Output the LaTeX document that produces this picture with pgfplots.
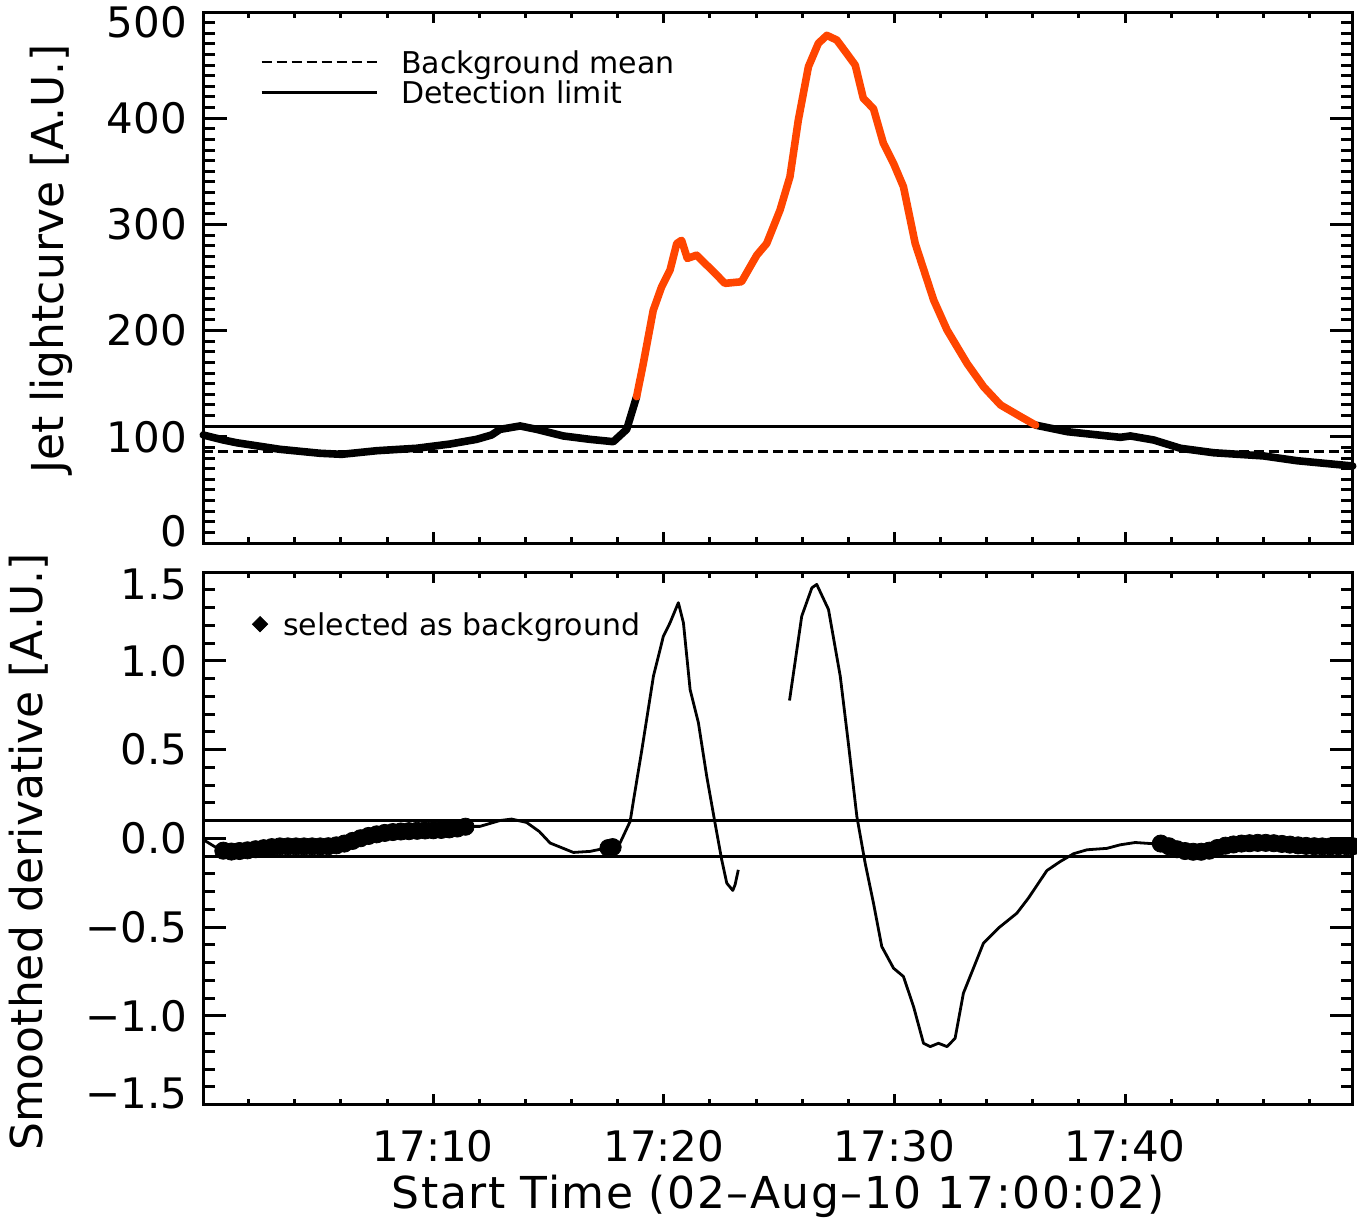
\documentclass[border=0pt]{standalone}
\usepackage{fontspec}
\setmainfont{DejaVu Sans}
\usepackage{pgfplots}
\pgfplotsset{compat=1.18}
\usepackage{pgfplotstable}
\definecolor{jetred}{RGB}{255,69,0}

% top panel: jet lightcurve (minutes after 17:00)
\pgfplotstableread{
t y
0.03 101.7
0.9 97
1.48 94.4
3.36 88.2
5.09 84.5
6.03 83.5
7.55 86.9
9.28 89.2
10.73 93.2
11.88 97.6
12.53 101.7
12.9 107
13.77 110.2
14.49 107
15.64 100.8
16.8 97.6
17.81 95.4
18.39 107
18.82 137.8
}\lcA
\pgfplotstableread{
t y
18.82 137.8
19.11 169
19.54 219
19.9 241
20.27 257
20.56 282
20.77 285
21.02 268
21.42 271
22.0 258.7
22.65 244.5
23.37 246
24.03 271
24.46 282
25.04 313.6
25.47 345
25.83 398
26.27 448.5
26.7 470.5
27.07 478
27.5 473.6
27.93 461
28.3 450
28.65 418.7
29.09 409
29.52 376.4
29.96 357.5
30.39 335.5
30.9 282
31.7 228.8
32.28 200.6
33.15 169
33.87 147
34.6 130
35.47 119
36.12 111
}\lcB
\pgfplotstableread{
t y
36.12 111
37.5 104.8
39.8 99.5
40.23 100.8
41.24 97
42.4 89.2
43.84 85
46.0 82
47.45 77.5
49.87 72.5
}\lcC

% bottom panel: smoothed derivative
\pgfplotstableread{
t v
0.03 -0.008
0.75 -0.065
1.4 -0.074
3.5 -0.046
5.6 -0.046
7.05 0.01
8.8 0.038
10.9 0.048
11.35 0.067
12.03 0.067
12.9 0.1
13.4 0.108
14.05 0.089
14.6 0.038
15.07 -0.027
16.08 -0.08
16.8 -0.074
17.7 -0.05
18.1 -0.027
18.54 0.095
18.69 0.217
19.05 0.5
19.55 0.913
19.98 1.138
20.27 1.214
20.63 1.327
20.85 1.214
21.14 0.838
21.5 0.65
21.86 0.349
22.22 0.086
22.51 -0.121
22.73 -0.253
22.99 -0.294
23.09 -0.262
23.23 -0.178
}\drA
\pgfplotstableread{
t v
25.45 0.776
25.98 1.251
26.42 1.411
26.63 1.43
27.14 1.289
27.65 0.913
28.0 0.537
28.37 0.123
28.73 -0.14
29.09 -0.365
29.45 -0.61
29.96 -0.732
30.39 -0.779
30.83 -0.949
31.26 -1.155
31.55 -1.174
31.91 -1.155
32.28 -1.174
32.63 -1.127
32.99 -0.873
33.28 -0.779
33.86 -0.591
34.51 -0.506
35.31 -0.422
35.81 -0.337
36.61 -0.182
37.19 -0.131
37.77 -0.087
38.35 -0.065
39.21 -0.057
39.79 -0.037
40.44 -0.024
41.24 -0.031
41.6 -0.03
42.4 -0.065
43.26 -0.074
44.27 -0.04
45.87 -0.026
47.17 -0.036
48.6 -0.046
49.87 -0.045
}\drB
\pgfplotstableread{
t v
0.9 -0.07
1.25 -0.075
1.6 -0.072
1.95 -0.068
2.3 -0.062
2.65 -0.056
3.0 -0.05
3.35 -0.046
3.7 -0.046
4.05 -0.046
4.4 -0.046
4.75 -0.046
5.1 -0.046
5.45 -0.045
5.8 -0.04
6.15 -0.03
6.5 -0.015
6.85 0.0
7.2 0.013
7.55 0.022
7.9 0.03
8.25 0.035
8.6 0.038
8.95 0.04
9.3 0.042
9.65 0.044
10.0 0.045
10.35 0.047
10.7 0.05
11.05 0.055
11.4 0.065
17.6 -0.055
17.78 -0.05
41.55 -0.03
41.9 -0.045
42.25 -0.062
42.6 -0.072
42.95 -0.076
43.3 -0.076
43.65 -0.07
44.0 -0.055
44.35 -0.042
44.7 -0.035
45.05 -0.03
45.4 -0.028
45.75 -0.026
46.1 -0.026
46.45 -0.028
46.8 -0.032
47.15 -0.036
47.5 -0.04
47.85 -0.043
48.2 -0.045
48.55 -0.046
48.9 -0.046
49.25 -0.045
49.6 -0.045
49.87 -0.045
}\bgsel

\begin{document}
\begin{tikzpicture}
\pgfplotsset{
  panel/.style={
    scale only axis, width=574.6pt,
    xmin=0.04, xmax=49.87,
    axis line style={line width=1.5pt},
    tick style={line width=1.5pt, black},
    tick align=inside,
    clip=false,
    ticklabel style={font=\fontsize{21}{21}\selectfont},
    label style={font=\fontsize{22}{22}\selectfont},
  },
  toppanel/.style={panel, height=265.5pt, ymin=0, ymax=500, at={(0pt,0pt)}, anchor=south west},
  botpanel/.style={panel, height=266.25pt, ymin=-1.5, ymax=1.5, at={(0pt,-14.5pt)}, anchor=north west},
  yt/.style={xtick=\empty, major tick length=11.5pt, minor tick length=6pt,
    yticklabel style={anchor=east, inner xsep=0pt, xshift=-8pt}},
  xt/.style={ytick=\empty, xtick={10,20,30,40}, minor xtick={2,4,...,48},
    major tick length=5.5pt, minor tick length=3pt,
    xticklabel style={anchor=base, yshift=-28.5pt}},
}

% ---------------- top panel ----------------
\begin{axis}[toppanel, yt,
  ytick={0,100,200,300,400,500},
  yticklabels={\raisebox{6pt}[\height][\depth]{0},100,200,300,400,\raisebox{-5pt}[\height][\depth]{500}},
  minor ytick={10,20,...,490},
  ylabel={Jet lightcurve [A.U.]},
  ylabel style={at={(axis description cs:-0.132,0.535)}, anchor=center},
  legend style={draw=none, fill=none, at={(axis description cs:0.0492,0.934)}, anchor=north west,
    inner sep=0pt, outer sep=0pt, row sep=0pt, column sep=11.5pt,
    nodes={inner sep=0pt, text height=13pt, text depth=2pt},
    font=\fontsize{15}{15}\selectfont},
  legend cell align=left,
  legend image code/.code={\draw[#1] (0pt,0pt) -- (57.5pt,0pt);},
]
\addplot[black, line width=1.4pt, dash pattern=on 5pt off 2.5pt] coordinates {(0.04,86) (49.87,86)};
\addlegendentry{Background mean}
\addplot[black, line width=1.5pt] coordinates {(0.04,110) (49.87,110)};
\addlegendentry{Detection limit}
\addplot[black, line width=3.8pt, line join=round, line cap=round, forget plot] table[x=t,y=y] {\lcA};
\addplot[black, line width=3.8pt, line join=round, line cap=round, forget plot] table[x=t,y=y] {\lcC};
\addplot[jetred, line width=3.8pt, line join=round, line cap=round, forget plot] table[x=t,y=y] {\lcB};
\end{axis}
\begin{axis}[toppanel, xt, xticklabels={}]
\end{axis}

% ---------------- bottom panel ----------------
\begin{axis}[botpanel, yt,
  ytick={-1.5,-1,-0.5,0,0.5,1,1.5},
  yticklabels={\raisebox{5.75pt}[\height][\depth]{−1.5},−1.0,−0.5,0.0,0.5,1.0,\raisebox{-6pt}[\height][\depth]{1.5}},
  minor ytick={-1.4,-1.3,...,1.45},
  ylabel={Smoothed derivative [A.U.]},
  ylabel style={at={(axis description cs:-0.152,0.474)}, anchor=center},
  legend style={draw=none, fill=none, at={(axis description cs:0.0426,0.902)}, anchor=west,
    inner sep=0pt, outer sep=0pt, row sep=0pt, column sep=7.75pt,
    nodes={inner sep=0pt, text height=13pt, text depth=2pt},
    font=\fontsize{15}{15}\selectfont},
  legend cell align=left,
]
\addplot[black, line width=1.5pt, forget plot] coordinates {(0.04,0.1) (49.87,0.1)};
\addplot[black, line width=1.5pt, forget plot] coordinates {(0.04,-0.1) (49.87,-0.1)};
\addplot[black, line width=1.4pt, line join=round, forget plot] table[x=t,y=v] {\drA};
\addplot[black, line width=1.4pt, line join=round, forget plot] table[x=t,y=v] {\drB};
\addplot[black, only marks, mark=*, mark size=4.3pt,
  legend image code/.code={\draw[black, fill=black, mark=square*, mark size=2.7pt, mark options={rotate=45}] plot coordinates {(0pt,0pt)};}]
  table[x=t,y=v] {\bgsel};
\addlegendentry{selected as background}
\end{axis}
\begin{axis}[botpanel, xt, xticklabels={17:10,17:20,17:30,17:40},
  xlabel={\addfontfeatures{LetterSpace=3.5}Start Time (02–Aug–10 17:00:02)},
  xlabel style={at={(axis description cs:0.5,-0.1953)}, anchor=base}]
\end{axis}

\pgfresetboundingbox
\path[use as bounding box] (-101.75pt,271.5pt) rectangle (576.75pt,-339.5pt);
\end{tikzpicture}
\end{document}
